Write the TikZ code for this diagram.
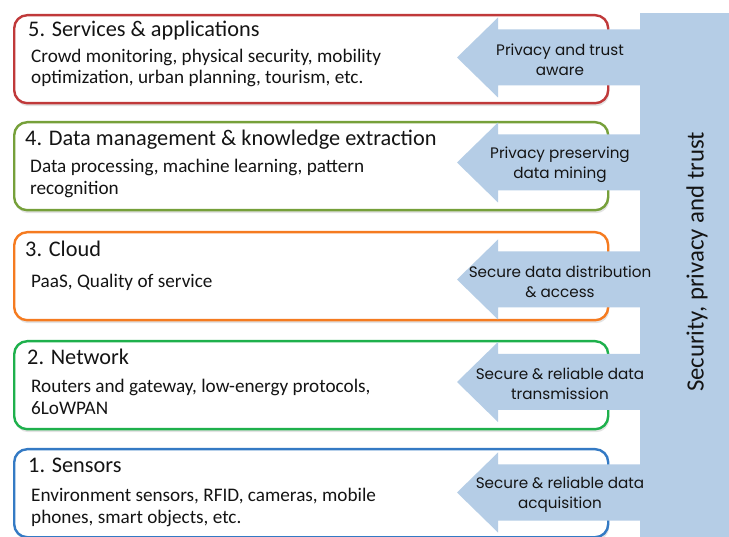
\documentclass[tikz,border=0pt]{standalone}
\usepackage{fontspec}
\setmainfont{Carlito}
\newfontfamily\gothic{Poppins}
\usetikzlibrary{shadows}
\definecolor{barblue}{RGB}{181,205,230}
\definecolor{cfive}{RGB}{192,57,58}
\definecolor{cfour}{RGB}{118,160,58}
\definecolor{cthree}{RGB}{245,123,32}
\definecolor{ctwo}{RGB}{30,176,76}
\definecolor{cone}{RGB}{52,122,196}
\definecolor{txt}{RGB}{20,20,20}
\tikzset{
  layerbox/.style={draw, fill=white, line width=2.4pt, rounded corners=13pt,
    minimum width=594pt, minimum height=88pt, anchor=north west, inner sep=0pt,
    drop shadow={shadow xshift=1pt, shadow yshift=-3pt, opacity=0.22}},
  titletext/.style={anchor=base west, inner sep=0pt, text=txt, font=\fontsize{22.3}{26}\selectfont},
  bodytext/.style={anchor=base west, inner sep=0pt, text=txt, font=\fontsize{19.2}{23}\selectfont},
  arrtext/.style={inner sep=0pt, align=center, text=txt, font=\gothic\fontsize{15.2}{20}\selectfont},
  arrfill/.style={fill=barblue, draw=none}
}
\begin{document}
\begin{tikzpicture}[x=1pt,y=-1pt]
\useasboundingbox (0,0) rectangle (729,537);
% vertical bar
\fill[barblue] (640,13) rectangle (729,537);
\node[rotate=90, inner sep=0pt, text=txt, font=\fontsize{24.8}{26}\selectfont] (vt) at (697,262) {Security, privacy and trust};

% boxes
\node[layerbox, draw=cfive] (b5) at (13,14) {};
\node[layerbox, draw=cfour] (b4) at (13,121) {};
\node[layerbox, draw=cthree] (b3) at (13,231) {};
\node[layerbox, draw=ctwo] (b2) at (13,340) {};
\node[layerbox, draw=cone] (b1) at (13,448) {};

% titles and bodies
\node[titletext] (t5) at (28,37) {5. Services \& applications};
\node[bodytext] (d5a) at (31,63) {Crowd monitoring, physical security, mobility};
\node[bodytext] (d5b) at (31,84) {optimization, urban planning, tourism, etc.};
\node[titletext] (t4) at (25,146) {4. Data management \& knowledge extraction};
\node[bodytext] (d4a) at (30,173) {Data processing, machine learning, pattern};
\node[bodytext] (d4b) at (30,195) {recognition};
\node[titletext] (t3) at (25,257) {3. Cloud};
\node[bodytext] (d3a) at (31,288) {PaaS, Quality of service};
\node[titletext] (t2) at (27,365) {2. Network};
\node[bodytext] (d2a) at (31,393) {Routers and gateway, low-energy protocols,};
\node[bodytext] (d2b) at (31,415) {6LoWPAN};
\node[titletext] (t1) at (28,472) {1. Sensors};
\node[bodytext] (d1a) at (31,501) {Environment sensors, RFID, cameras, mobile};
\node[bodytext] (d1b) at (31,523) {phones, smart objects, etc.};

% arrows
\foreach \c/\n in {57.5/5,162.5/4,279.5/3,382/2,492.5/1}{
  \fill[barblue] (641,\c-28) -- (498,\c-28) -- (498,\c-40) -- (457,\c) -- (498,\c+40) -- (498,\c+28) -- (641,\c+28) -- cycle;
}
\node[arrtext] (a5) at (560,59.5) {Privacy and trust\\aware};
\node[arrtext] (a4) at (560,164.5) {Privacy preserving\\data mining};
\node[arrtext] (a3) at (560,282) {Secure data distribution\\\& access};
\node[arrtext] (a2) at (560,384) {Secure \& reliable data\\transmission};
\node[arrtext] (a1) at (560,494.5) {Secure \& reliable data\\acquisition};
\end{tikzpicture}
\end{document}
